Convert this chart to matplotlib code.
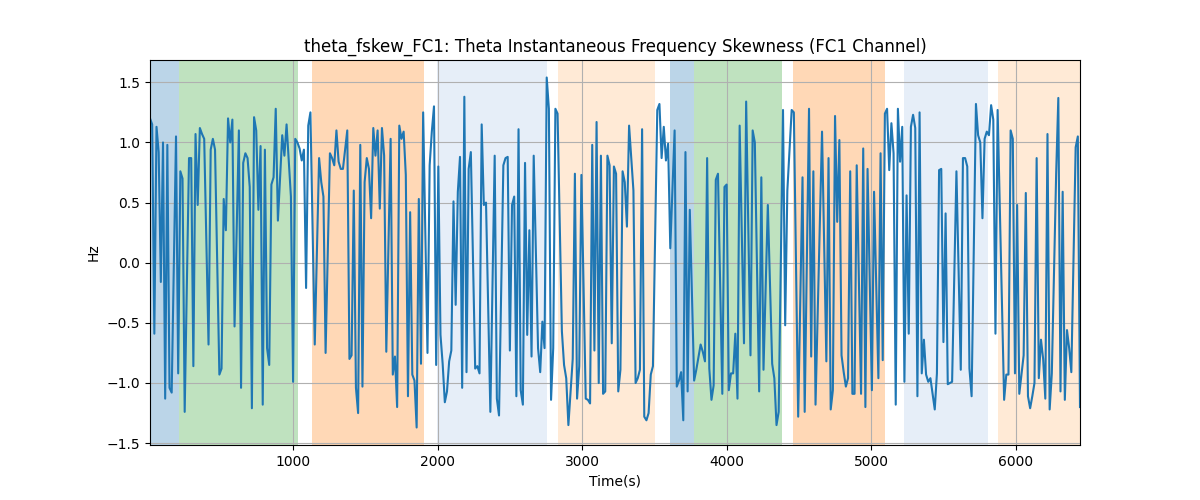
import matplotlib
matplotlib.use("Agg")
import matplotlib.pyplot as plt

time_s = [10, 25, 40, 55, 70, 85, 100, 115, 130, 145, 160, 190, 205, 220, 235, 250, 280, 295, 310, 325, 340,
          355, 370, 385, 415, 430, 445, 460, 490, 505, 520, 535, 550, 565, 580, 595, 625, 640, 655, 670, 685,
          700, 715, 730, 745, 760, 775, 790, 805, 820, 835, 850, 865, 880, 895, 925, 940, 955, 970, 985, 1000,
          1015, 1030, 1045, 1060, 1075, 1090, 1105, 1120, 1150, 1180, 1195, 1210, 1225, 1255, 1270, 1285, 1300,
          1315, 1330, 1345, 1375, 1390, 1405, 1420, 1435, 1450, 1465, 1480, 1495, 1510, 1525, 1540, 1555, 1570,
          1585, 1600, 1615, 1630, 1645, 1675, 1690, 1705, 1720, 1735, 1750, 1765, 1780, 1795, 1810, 1825, 1840,
          1855, 1870, 1885, 1900, 1930, 1945, 1960, 1975, 1990, 2005, 2020, 2035, 2050, 2065, 2080, 2095, 2110,
          2125, 2140, 2155, 2170, 2185, 2200, 2215, 2230, 2260, 2275, 2290, 2305, 2320, 2335, 2365, 2395, 2410,
          2425, 2455, 2470, 2485, 2500, 2515, 2530, 2545, 2560, 2575, 2590, 2605, 2620, 2635, 2650, 2665, 2695,
          2710, 2725, 2740, 2755, 2770, 2785, 2800, 2815, 2830, 2860, 2875, 2890, 2905, 2935, 2950, 2965, 2980,
          2995, 3025, 3040, 3055, 3070, 3085, 3100, 3115, 3130, 3145, 3160, 3175, 3190, 3205, 3220, 3235, 3250,
          3265, 3280, 3295, 3310, 3325, 3355, 3370, 3385, 3400, 3415, 3430, 3445, 3460, 3475, 3490, 3520, 3535,
          3550, 3565, 3580, 3595, 3610, 3640, 3655, 3670, 3685, 3700, 3715, 3730, 3745, 3775, 3790, 3820, 3835,
          3850, 3865, 3880, 3895, 3910, 3925, 3940, 3970, 3985, 4000, 4015, 4030, 4045, 4060, 4075, 4090, 4120,
          4135, 4165, 4180, 4195, 4225, 4240, 4255, 4285, 4315, 4330, 4345, 4360, 4390, 4405, 4420, 4450, 4465,
          4495, 4525, 4540, 4570, 4585, 4600, 4615, 4660, 4690, 4705, 4720, 4735, 4750, 4765, 4780, 4795, 4810,
          4825, 4840, 4855, 4870, 4885, 4900, 4930, 4945, 4960, 4975, 5005, 5020, 5050, 5065, 5080, 5095, 5110,
          5125, 5140, 5155, 5170, 5185, 5200, 5215, 5230, 5245, 5260, 5275, 5290, 5305, 5320, 5335, 5350, 5365,
          5380, 5395, 5410, 5440, 5455, 5470, 5485, 5500, 5515, 5530, 5545, 5560, 5590, 5620, 5635, 5650, 5665,
          5680, 5695, 5725, 5740, 5755, 5770, 5785, 5800, 5815, 5830, 5845, 5860, 5875, 5920, 5935, 5950, 5965,
          5980, 5995, 6010, 6025, 6055, 6070, 6085, 6100, 6115, 6130, 6145, 6160, 6175, 6190, 6205, 6220, 6235,
          6250, 6280, 6295, 6310, 6325, 6340, 6355, 6370, 6385, 6415, 6430, 6445]

skew_hz = [1.20, 1.15, -0.59, 1.13, 0.92, -0.16, 1.00, -1.13, 0.98, -1.04, -1.08, 1.05, -0.92, 0.76, 0.70, -1.24, 0.87, 0.87, -0.86, 1.07, 0.48,
           1.12, 1.07, 1.03, -0.68, 0.94, 1.03, 0.94, -0.93, -0.88, 0.53, 0.27, 1.20, 1.00, 1.19, -0.53, 1.10, -1.04, 0.83, 0.91, 0.87,
           0.63, -1.21, 1.21, 1.10, 0.44, 0.97, -1.18, 0.94, -0.71, -0.85, 0.65, 0.71, 1.28, 0.35, 1.06, 0.89, 1.15, 0.85, 0.55, -0.99,
           1.03, 1.00, 0.95, 0.85, 0.94, -0.21, 1.14, 1.25, -0.68, 0.87, 0.67, 0.55, -0.75, 0.91, 0.87, 0.81, 1.10,
           0.84, 0.78, 0.78, 1.10, -0.80, -0.77, 0.60, -1.04, -1.25, 0.98, -1.03, 0.67, 0.87, 0.78, 0.37, 1.12, 0.89,
           1.10, 0.45, 1.12, 0.89, -0.74, 1.03, -0.93, -0.78, -1.20, 1.14, 1.03, 1.09, 0.73, -1.11, 0.42, -0.93, -0.98,
           -1.37, 0.53, -0.84, 1.25, -0.75, 0.81, 1.09, 1.30, -0.85, 0.80, -0.60, -0.84, -1.16, -1.07, -0.82, -0.73, 0.51,
           -0.35, 0.59, 0.88, -1.04, 1.38, -0.91, 0.78, 0.92, -0.88, -0.86, -0.92, 1.15, 0.48, 0.50, -1.24, 0.89, -1.13,
           -1.27, 0.81, 0.87, 0.88, -0.73, 0.48, 0.55, -1.11, 1.11, -1.06, -1.18, 0.83, -0.60, 0.27, -0.78, 0.89, -0.71,
           -0.91, -0.49, -0.71, 1.54, 1.28, -1.14, -0.71, 1.28, 1.24, -0.57, -0.85, -0.96, -1.35, -0.80, 0.74, -1.13, -0.86,
           0.73, -1.13, -1.14, -1.17, 0.98, -0.73, 1.17, -1.00, 0.89, -1.09, -1.07, 0.89, 0.81, -0.67, 0.80, 0.74, -1.07,
           -0.89, 0.76, 0.67, 0.30, 1.14, 0.60, -1.00, -0.96, -0.89, 1.11, -1.28, -1.31, -1.25, -0.93, -0.86, 1.27, 1.32,
           0.87, 1.13, 0.85, 0.99, 0.12, 1.10, -1.03, -0.98, -0.91, -1.31, 0.92, -1.07, 0.44, -0.98, -0.89, -0.68, -0.74,
           -0.82, 0.87, -0.88, -1.14, -1.02, 0.69, 0.74, -1.09, 0.63, 0.65, -1.06, -0.92, -0.92, -0.59, -1.13, 1.14, -0.67,
           1.34, -0.77, 1.10, 1.00, -1.07, 0.71, -0.89, 0.48, -0.84, -0.96, -1.35, -1.24, 1.27, -0.52, 0.60, 1.27, 1.25,
           -1.28, 0.71, -1.24, 1.28, -0.78, 0.76, -1.18, 1.09, -0.82, 0.87, -1.22, -1.06, 1.22, 0.34, 1.02, -0.77, -0.91,
           -1.03, -0.96, 0.76, -1.09, -1.09, 0.81, -1.09, 0.95, -1.20, 0.78, -1.06, 0.59, -0.96, 0.91, -0.81, 1.24, 1.28,
           0.77, 1.16, 0.91, -1.18, 1.28, 0.84, 1.13, -0.99, 0.56, -0.59, 1.13, 1.23, 1.12, -1.11, 1.25, -0.92, -0.64,
           -0.93, -0.99, -0.96, -1.22, -0.92, 0.77, 0.78, -0.66, 0.41, -1.01, -1.00, -0.99, 0.76, -0.89, 0.87, 0.87, 0.80,
           -0.88, -1.11, 1.32, 1.06, 1.00, 0.37, 1.03, 1.09, 1.06, 1.31, 1.19, -0.59, 1.27, -1.14, -0.93, -0.93, 1.10,
           1.03, -0.92, 0.48, -1.09, -0.77, 0.58, -1.11, -1.21, -1.11, -1.00, 0.87, -0.96, -0.64, -0.80, -1.13, 1.07, -1.22,
           -0.92, 0.74, 1.37, -1.07, 0.59, -1.14, -0.56, -0.71, -0.91, 0.96, 1.05, -1.20]

span_start = [10, 213, 1129, 1998, 2836, 3606, 3775, 4462, 5225, 5880]
span_end = [213, 1034, 1906, 2755, 3507, 3775, 4386, 5098, 5811, 6445]
span_color = ["#1f77b4", "#2ca02c", "#ff7f0e", "#aec7e8", "#ffbb78",
              "#1f77b4", "#2ca02c", "#ff7f0e", "#aec7e8", "#ffbb78"]
span_alpha = [0.3, 0.3, 0.3, 0.3, 0.3, 0.3, 0.3, 0.3, 0.3, 0.3]

fig, ax = plt.subplots(figsize=(12, 5), dpi=100)
for s, e, c, a in zip(span_start, span_end, span_color, span_alpha):
    ax.axvspan(s, e, color=c, alpha=a, linewidth=0)
ax.plot(time_s, skew_hz, color="tab:blue", linewidth=1.5)
ax.set_xlim(time_s[0], time_s[-1])
ax.grid(True)
ax.set_title("theta_fskew_FC1: Theta Instantaneous Frequency Skewness (FC1 Channel)")
ax.set_xlabel("Time(s)")
ax.set_ylabel("Hz")
fig.savefig("out.png")
